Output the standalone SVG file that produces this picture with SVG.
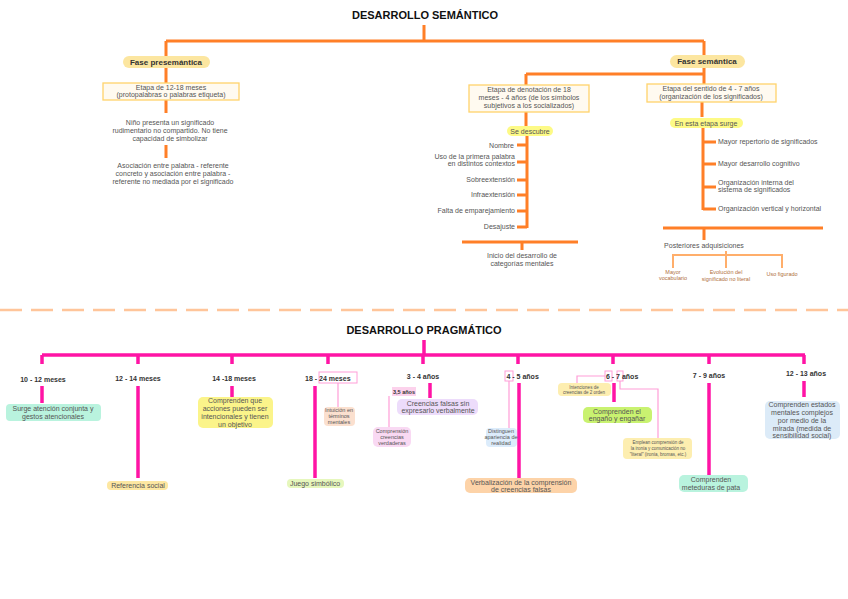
<svg xmlns="http://www.w3.org/2000/svg" width="848" height="599" viewBox="0 0 848 599">
<style>
text{font-family:"Liberation Sans",Arial,sans-serif;fill:#555;font-size:7px}
.t{font-size:11px;font-weight:bold;fill:#111;text-anchor:middle}
.c{text-anchor:middle}
.e{text-anchor:end}
.b{font-weight:bold;fill:#333}
.o{fill:none;stroke:#ff7f27;stroke-width:3}
.o2{fill:none;stroke:#ffae6b;stroke-width:2}
.p{fill:none;stroke:#ff14a5;stroke-width:3.5}
.pt{fill:none;stroke:#ff9ed8;stroke-width:1.2}
.s{font-size:5.5px}
.xs{font-size:4.5px}
</style>
<rect width="848" height="599" fill="#fff"/>
<g id="connectors">
<path class="o" d="M424 25V41M166 41H704M166 41V56M166 68V83M166 100V113M166 145V158M704 41V55M704 68V84M526 74H704M526 74V85M526 112V126M527 136V228M517 145H527M517 162H527M517 180H527M517 195H527M517 211H527M517 227H527M702 102V117M703 128V210M703 142H716M703 164H716M703 187H716M703 209H716M462 242H578M522 242V250M663 228H823M704 228V240"/>
<path class="o2" d="M726 251V255M673 268V255H782V268M726 255V268"/>
<path d="M0 310H848" stroke="#ffc59a" stroke-width="2.5" stroke-dasharray="22 9"/>
<path class="p" d="M424 340V355M42 355H805M42 355V364M138 355V364M232 355V364M328 355V364M423 355V364M518 355V364M613 355V364M709 355V364M804 355V364M42 386V403M138 386V478M232 386V397M315 386V478M430 383V398M519 383V478M614 383V402M709 383V475M804 381V397"/>
<path class="pt" d="M338 383V407M389 396V429M509 381V428M605 376H577V385M620 381V389H658V440"/>
</g>
<g id="title-sem"><text class="t" x="425" y="19">DESARROLLO SEMÁNTICO</text></g>
<g id="fase-presemantica"><rect x="123" y="56" width="87" height="12" rx="6" fill="#fce6a0"/><text class="c b" x="166" y="65" style="font-size:8px">Fase presemántica</text></g>
<g id="etapa-12-18"><rect x="103" y="83" width="136" height="17" fill="#fffaf0" stroke="#ffd36b" stroke-width="1.3"/><text class="c" x="171" y="90">Etapa de 12-18 meses</text><text class="c" x="171" y="97">(protopalabras o palabras etiqueta)</text></g>
<g id="nino"><text class="c" x="170" y="125">Niño presenta un significado</text><text class="c" x="170" y="133">rudimentario no compartido. No tiene</text><text class="c" x="170" y="141">capacidad de simbolizar</text></g>
<g id="asociacion"><text class="c" x="173" y="168">Asociación entre palabra - referente</text><text class="c" x="173" y="176">concreto y asociación entre palabra -</text><text class="c" x="173" y="184">referente no mediada por el significado</text></g>
<g id="fase-semantica"><rect x="670" y="55" width="75" height="13" rx="6.5" fill="#fce6a0"/><text class="c b" x="707" y="64" style="font-size:8px">Fase semántica</text></g>
<g id="etapa-denotacion"><rect x="469" y="85" width="120" height="27" fill="#fffaf0" stroke="#ffd36b" stroke-width="1.3"/><text class="c" x="529" y="92">Etapa de denotación de 18</text><text class="c" x="529" y="100">meses - 4 años (de los símbolos</text><text class="c" x="529" y="108">subjetivos a los socializados)</text></g>
<g id="etapa-sentido"><rect x="647" y="84" width="129" height="18" fill="#fffaf0" stroke="#ffd36b" stroke-width="1.3"/><text class="c" x="711" y="91">Etapa del sentido de 4 - 7 años</text><text class="c" x="711" y="99">(organización de los significados)</text></g>
<g id="se-descubre"><rect x="507" y="126" width="46" height="10" rx="5" fill="#fdfa86"/><text class="c" x="530" y="133.5">Se descubre</text></g>
<g id="lista-descubre"><text class="e" x="514" y="148">Nombre</text><text class="e" x="515" y="159">Uso de la primera palabra</text><text class="e" x="515" y="166">en distintos contextos</text><text class="e" x="515" y="182">Sobreextensión</text><text class="e" x="515" y="197">Infraextensión</text><text class="e" x="515" y="213">Falta de emparejamiento</text><text class="e" x="515" y="229">Desajuste</text></g>
<g id="inicio-categorias"><text class="c" x="522" y="258">Inicio del desarrollo de</text><text class="c" x="522" y="266">categorías mentales</text></g>
<g id="en-esta-etapa"><rect x="670" y="118" width="73" height="10" rx="5" fill="#fdfa86"/><text class="c" x="706" y="125.5">En esta etapa surge</text></g>
<g id="lista-surge"><text x="718" y="144">Mayor repertorio de significados</text><text x="718" y="166">Mayor desarrollo cognitivo</text><text x="718" y="185">Organización interna del</text><text x="718" y="192">sistema de significados</text><text x="718" y="211">Organización vertical y horizontal</text></g>
<g id="posteriores"><text class="c" x="704" y="248">Posteriores adquisiciones</text></g>
<g id="adq"><text class="c s" x="673" y="274" style="fill:#b07040">Mayor</text><text class="c s" x="673" y="280" style="fill:#b07040">vocabulario</text><text class="c s" x="726" y="274" style="fill:#b07040">Evolución del</text><text class="c s" x="726" y="281" style="fill:#b07040">significado no literal</text><text class="c s" x="782" y="276" style="fill:#b07040">Uso figurado</text></g>
<g id="title-prag"><text class="t" x="424" y="334">DESARROLLO PRAGMÁTICO</text></g>
<g id="labels">
<text class="c b" x="43" y="382">10 - 12 meses</text>
<text class="c b" x="138" y="381">12 - 14 meses</text>
<text class="c b" x="234" y="381">14 -18 meses</text>
<rect x="319" y="372" width="38" height="11" fill="#fff" stroke="#ff9ed8" stroke-width="1"/>
<text class="b" x="305" y="380.5">18 - 24 meses</text>
<text class="c b" x="423" y="379">3 - 4 años</text>
<rect x="505" y="371" width="8" height="10" fill="#fff" stroke="#ff9ed8" stroke-width="1"/>
<text class="b" x="506.5" y="378.5">4 - 5 años</text>
<rect x="605" y="371" width="7" height="10" fill="#fff" stroke="#ff9ed8" stroke-width="1"/>
<rect x="617" y="371" width="6" height="10" fill="#fff" stroke="#ff9ed8" stroke-width="1"/>
<text class="b" x="606" y="378.5">6 - 7 años</text>
<text class="c b" x="709" y="378">7 - 9 años</text>
<text class="c b" x="806" y="376">12 - 13 años</text>
</g>
<g id="n-atencion"><rect x="6" y="404" width="95" height="17" rx="4" fill="#b9f3de"/><text class="c" x="53" y="411">Surge atención conjunta y</text><text class="c" x="53" y="419">gestos atencionales</text></g>
<g id="n-referencia"><rect x="107" y="481" width="61" height="9" rx="4" fill="#fde7a2"/><text class="c" x="138" y="488">Referencia social</text></g>
<g id="n-acciones"><rect x="198" y="397" width="75" height="31" rx="5" fill="#fbf48a"/><text class="c" x="235" y="403">Comprenden que</text><text class="c" x="235" y="411">acciones pueden ser</text><text class="c" x="235" y="419">intencionales y tienen</text><text class="c" x="235" y="427">un objetivo</text></g>
<g id="n-intuicion"><rect x="324" y="407" width="31" height="19" rx="4" fill="#fbe0cf"/><text class="c s" x="339" y="412">Intuición en</text><text class="c s" x="339" y="418">términos</text><text class="c s" x="339" y="424">mentales</text></g>
<g id="n-juego"><rect x="287" y="479" width="57" height="9" rx="4" fill="#e6f7bd"/><text class="c" x="315" y="486">Juego simbólico</text></g>
<g id="n-35"><rect x="392" y="387" width="24" height="9" fill="#fcd2ec"/><text class="c b s" x="404" y="393.5">3,5 años</text></g>
<g id="n-creencias-falsas"><rect x="397" y="399" width="81" height="16" rx="5" fill="#eddcfb"/><text class="c" x="438" y="406">Creencias falsas sin</text><text class="c" x="438" y="413">expresarlo verbalmente</text></g>
<g id="n-verdaderas"><rect x="373" y="427" width="38" height="20" rx="5" fill="#f9d9f3"/><text class="c s" x="392" y="433">Comprensión</text><text class="c s" x="392" y="439">creencias</text><text class="c s" x="392" y="445">verdaderas</text></g>
<g id="n-distinguen"><rect x="486" y="428" width="31" height="19" rx="4" fill="#dcecfb"/><text class="c s" x="501" y="433">Distinguen</text><text class="c s" x="501" y="439">apariencia de</text><text class="c s" x="501" y="445">realidad</text></g>
<g id="n-verbalizacion"><rect x="465" y="478" width="112" height="15" rx="5" fill="#fdd3a8"/><text class="c" x="521" y="484.5">Verbalización de la comprensión</text><text class="c" x="521" y="491.5">de creencias falsas</text></g>
<g id="n-intenciones"><rect x="558" y="383" width="53" height="13" rx="4" fill="#fdeeb0"/><text class="c xs" x="584" y="388.5">Intenciones de</text><text class="c xs" x="584" y="394">creencias de 2 orden</text></g>
<g id="n-engano"><rect x="583" y="407" width="69" height="16" rx="5" fill="#c9f270"/><text class="c" x="617" y="414">Comprenden el</text><text class="c" x="617" y="421">engaño y engañar</text></g>
<g id="n-emplean"><rect x="623" y="438" width="69" height="21" rx="4" fill="#fdeeb0"/><text class="c xs" x="658" y="444">Emplean comprensión de</text><text class="c xs" x="658" y="450">la ironía y comunicación no</text><text class="c xs" x="658" y="456">"literal" (ironía, bromas, etc.)</text></g>
<g id="n-meteduras"><rect x="679" y="475" width="69" height="17" rx="5" fill="#b9f3de"/><text class="c" x="711" y="482">Comprenden</text><text class="c" x="711" y="490">meteduras de pata</text></g>
<g id="n-estados"><rect x="765" y="401" width="75" height="38" rx="5" fill="#dcebf8"/><text class="c" x="802" y="407">Comprenden estados</text><text class="c" x="802" y="415">mentales complejos</text><text class="c" x="802" y="423">por medio de la</text><text class="c" x="802" y="431">mirada (medida de</text><text class="c" x="802" y="438">sensibilidad social)</text></g>
</svg>
